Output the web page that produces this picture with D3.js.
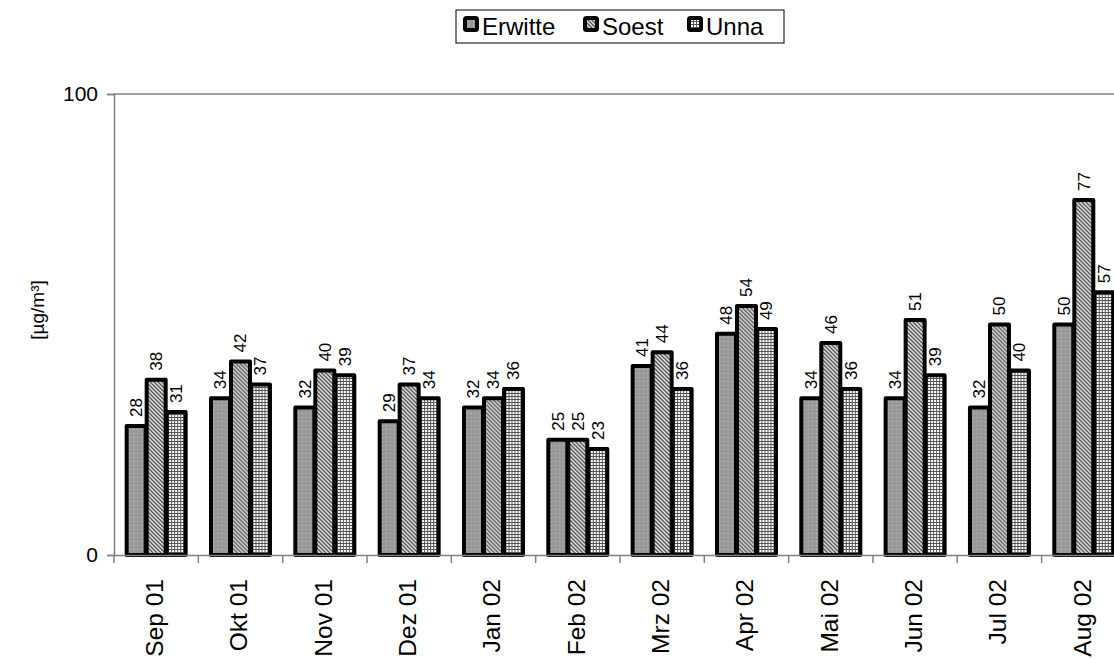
<!DOCTYPE html>
<html>
<head>
<meta charset="utf-8">
<script src="https://cdn.jsdelivr.net/npm/d3@7"></script>
<style>
  html, body { margin: 0; padding: 0; background: #fff; }
  svg { display: block; font-family: "Liberation Sans", Arial, sans-serif; }
</style>
</head>
<body>
<svg id="chart" width="1114" height="659"></svg>
<script>
// Monthly means per station
const months = ["Sep 01", "Okt 01", "Nov 01", "Dez 01", "Jan 02", "Feb 02",
                "Mrz 02", "Apr 02", "Mai 02", "Jun 02", "Jul 02", "Aug 02"];
const stations = ["Erwitte", "Soest", "Unna"];
const erwitte = [28, 34, 32, 29, 32, 25, 41, 48, 34, 34, 32, 50];
const soest   = [38, 42, 40, 37, 34, 25, 44, 54, 46, 51, 50, 77];
const unna    = [31, 37, 39, 34, 36, 23, 36, 49, 36, 39, 40, 57];
const yTicks = [0, 100];
const yLabel = "[µg/m³]";

const seriesValues = [erwitte, soest, unna];

const svg = d3.select("#chart");

// Fill patterns
const defs = svg.append("defs");
const pE = defs.append("pattern").attr("id", "pat-erwitte")
  .attr("patternUnits", "userSpaceOnUse").attr("width", 4).attr("height", 4);
pE.append("rect").attr("width", 4).attr("height", 4).attr("fill", "#999999");
pE.append("rect").attr("x", 1).attr("y", 1).attr("width", 1).attr("height", 1).attr("fill", "#c4c4c4");

const pS = defs.append("pattern").attr("id", "pat-soest")
  .attr("patternUnits", "userSpaceOnUse").attr("width", 4).attr("height", 4);
pS.append("rect").attr("width", 4).attr("height", 4).attr("fill", "#e6e6e6");
pS.append("path").attr("d", "M-1,-1 L5,5 M-1,3 L1,5 M3,-1 L5,1")
  .attr("stroke", "#4d4d4d").attr("stroke-width", 1.3);

const pU = defs.append("pattern").attr("id", "pat-unna")
  .attr("patternUnits", "userSpaceOnUse").attr("width", 3).attr("height", 3);
pU.append("rect").attr("width", 3).attr("height", 3).attr("fill", "#ffffff");
pU.append("path").attr("d", "M0,0.5 H3 M0.5,0 V3")
  .attr("stroke", "#555555").attr("stroke-width", 1);

const fills = ["url(#pat-erwitte)", "url(#pat-soest)", "url(#pat-unna)"];

// Plot area
const x0 = 114, bandW = 84.33;
const x = d3.scaleBand().domain(months).range([x0, x0 + bandW * months.length]).padding(0);
const xs = d3.scaleBand().domain(stations).range([-30, 30]).padding(0);
const y = d3.scaleLinear().domain([0, 100]).range([555, 94]);

// Top gridline at 100
svg.append("line")
  .attr("x1", x0).attr("x2", 1114)
  .attr("y1", y(100)).attr("y2", y(100))
  .attr("stroke", "#808080").attr("stroke-width", 1.5);

// Y axis
const yAxis = d3.axisLeft(y).tickValues(yTicks).tickSize(7).tickPadding(9);
const gy = svg.append("g").attr("transform", `translate(${x0},0)`).call(yAxis);
gy.select(".domain").attr("stroke", "#808080").attr("stroke-width", 1.5);
gy.selectAll(".tick line").attr("stroke", "#808080").attr("stroke-width", 1.5);
gy.selectAll(".tick text").attr("font-size", 21).attr("fill", "#000")
  .attr("font-family", "'Liberation Sans', Arial, sans-serif");

// Bars
const groups = svg.append("g").selectAll("g")
  .data(months).join("g")
  .attr("transform", m => `translate(${x(m) + x.bandwidth() / 2},0)`);

stations.forEach((s, si) => {
  groups.append("rect")
    .attr("x", xs(s) + 0.5)
    .attr("width", xs.bandwidth() - 1)
    .attr("y", (m, i) => y(seriesValues[si][i]))
    .attr("height", (m, i) => y(0) - y(seriesValues[si][i]))
    .attr("fill", fills[si])
    .attr("stroke", "#000")
    .attr("stroke-width", 4)
    .attr("stroke-linejoin", "round");
});

// Value labels
stations.forEach((s, si) => {
  groups.append("text")
    .attr("transform", (m, i) =>
      `translate(${xs(s) + xs.bandwidth() / 2 + 6},${y(seriesValues[si][i]) - 9}) rotate(-90)`)
    .attr("font-size", 17)
    .attr("text-anchor", "start")
    .text((m, i) => seriesValues[si][i]);
});

// X axis
const xAxis = d3.axisBottom(x).tickSize(0).tickFormat(() => "");
const gx = svg.append("g").attr("transform", `translate(0,${y(0)})`).call(xAxis);
gx.select(".domain").attr("stroke", "#808080").attr("stroke-width", 1.5);
// Category boundary ticks
const boundaries = d3.range(0, months.length).map(i => x0 + i * bandW);
gx.selectAll(".bnd").data(boundaries).join("line")
  .attr("x1", d => d).attr("x2", d => d).attr("y1", 0).attr("y2", 8)
  .attr("stroke", "#808080").attr("stroke-width", 1.5);
// Rotated month labels
svg.append("g").selectAll("text").data(months).join("text")
  .attr("transform", m => `translate(${x(m) + x.bandwidth() / 2 + 7},579) rotate(-90)`)
  .attr("text-anchor", "end")
  .attr("font-size", 24.5)
  .text(m => m);

// Y axis title
svg.append("text")
  .attr("transform", "translate(44,310) rotate(-90)")
  .attr("text-anchor", "middle")
  .attr("font-size", 19)
  .text(yLabel);

// Legend
const lg = svg.append("g");
lg.append("rect").attr("x", 456).attr("y", 10).attr("width", 328).attr("height", 33)
  .attr("fill", "#fff").attr("stroke", "#000").attr("stroke-width", 1);
const legendX = [463, 583, 687];
stations.forEach((s, si) => {
  lg.append("rect").attr("x", legendX[si] + 2).attr("y", 18).attr("width", 12).attr("height", 12)
    .attr("fill", fills[si]).attr("stroke", "#000").attr("stroke-width", 4)
    .attr("rx", 1.5).attr("stroke-linejoin", "round");
  lg.append("text").attr("x", legendX[si] + 19).attr("y", 35)
    .attr("font-size", 24).text(s);
});
</script>
</body>
</html>
